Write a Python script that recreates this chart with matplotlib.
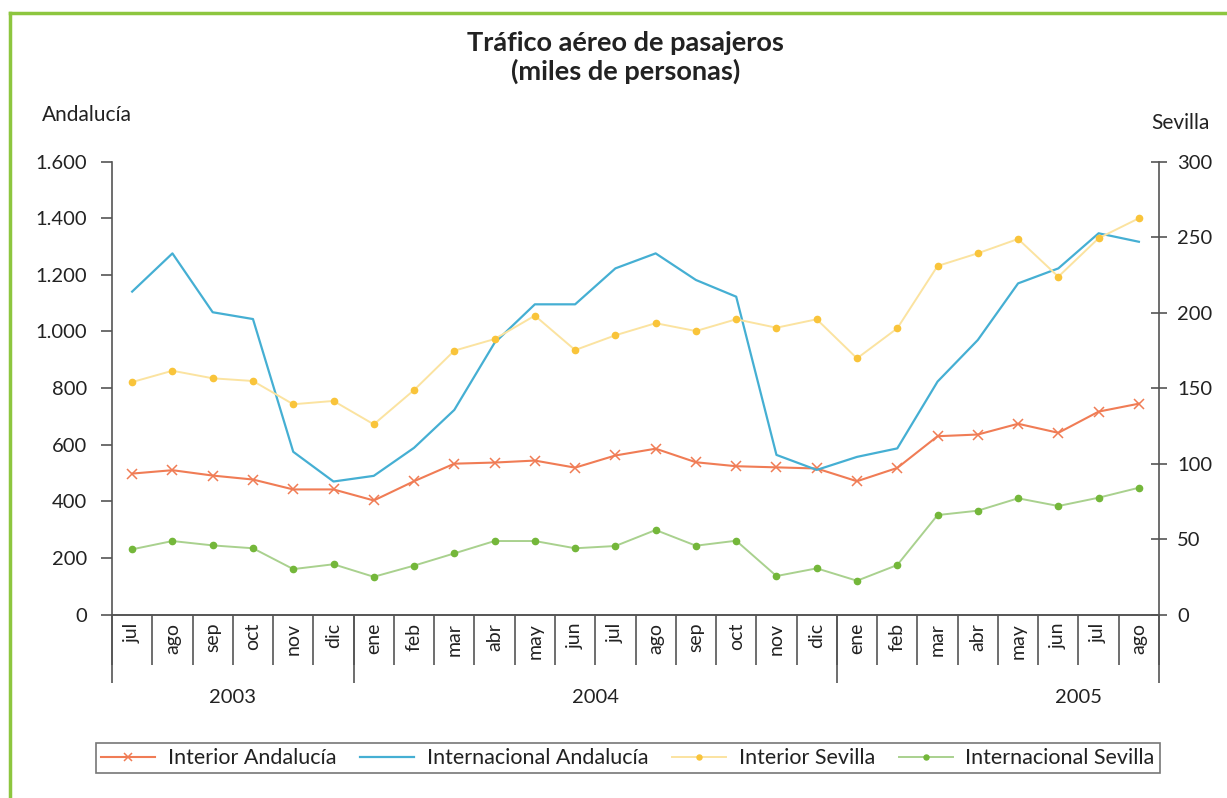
import matplotlib.pyplot as plt
import matplotlib.transforms as mtransforms
from matplotlib.lines import Line2D
from matplotlib.ticker import FuncFormatter
import numpy as np

plt.rcParams['font.family'] = ['Lato', 'DejaVu Sans']

months = ["jul", "ago", "sep", "oct", "nov", "dic",
          "ene", "feb", "mar", "abr", "may", "jun", "jul", "ago", "sep", "oct", "nov", "dic",
          "ene", "feb", "mar", "abr", "may", "jun", "jul", "ago"]
years = ["2003", "2004", "2005"]
year_pos = [2.5, 11.5, 23.5]
year_breaks = [-0.5, 5.5, 17.5, 25.5]

# Andalucía (left axis)
interior_and = [498, 510, 491, 477, 442, 442, 403, 471, 533, 537, 544, 519, 562,
                586, 538, 524, 520, 516, 471, 518, 630, 636, 674, 642, 717, 745]
internac_and = [1141, 1276, 1068, 1044, 575, 470, 490, 589, 723, 960, 1096, 1096, 1223,
                1276, 1182, 1123, 564, 511, 557, 587, 823, 970, 1170, 1223, 1347, 1317]
# Sevilla (right axis)
interior_sev = [154, 161.5, 156.5, 154.7, 139.3, 141.5, 126, 148.7, 174.8, 182.5, 198, 175.2, 185,
                193, 187.8, 195.6, 190, 195.6, 169.7, 189.6, 230.9, 239.3, 248.8, 223.8, 249.3, 262.5]
internac_sev = [43.2, 48.7, 45.8, 43.9, 30.1, 33.3, 25, 32.4, 40.5, 48.7, 48.7, 43.9, 45.4,
                56, 45.6, 48.9, 25.5, 30.6, 22.4, 32.8, 65.9, 68.8, 77, 71.9, 77.4, 84]

x = np.arange(len(months))
txt = '#222222'

fig = plt.figure(figsize=(12.27, 7.98), dpi=100)
ax = fig.add_axes([0.0913, 0.2299, 0.8533, 0.5675])
ax2 = ax.twinx()

l1, = ax.plot(x, interior_and, color='#F07C55', lw=1.5, marker='x', ms=7.5, mew=1.1,
              label='Interior Andalucía')
l2, = ax.plot(x, internac_and, color='#45AFD3', lw=1.6, label='Internacional Andalucía')
l3, = ax2.plot(x, interior_sev, color='#FBE3A0', lw=1.4, marker='o', ms=4.5,
               mfc='#F9C43A', mec='#F9C43A', label='Interior Sevilla')
l4, = ax2.plot(x, internac_sev, color='#A9D18E', lw=1.4, marker='o', ms=4.5,
               mfc='#74B73A', mec='#74B73A', label='Internacional Sevilla')

ax.set_xlim(-0.5, 25.5)
ax.set_ylim(0, 1600)
ax2.set_ylim(0, 300)
ax.set_yticks(np.arange(0, 1601, 200))
ax2.set_yticks(np.arange(0, 301, 50))
ax.yaxis.set_major_formatter(FuncFormatter(lambda v, p: f"{int(v):,}".replace(",", ".")))

for a in (ax, ax2):
    a.spines['top'].set_visible(False)
    for s in ['left', 'right', 'bottom']:
        a.spines[s].set_color('#555555')
        a.spines[s].set_linewidth(1.2)
ax.spines['right'].set_visible(False)
ax2.spines['left'].set_visible(False)

ax.tick_params(axis='y', direction='out', length=8, width=1.2, color='#555555',
               pad=10, labelsize=14.5, labelcolor=txt)
ax2.tick_params(axis='y', direction='inout', length=12, width=1.2, color='#555555',
                pad=7, labelsize=14.5, labelcolor=txt)

ax.set_xticks(x)
ax.set_xticklabels(months, rotation=90, va='top', fontsize=14, color=txt)
ax.tick_params(axis='x', which='major', length=0, pad=6)
ax.set_xticks(np.arange(-0.5, 26, 1), minor=True)
ax.tick_params(axis='x', which='minor', length=36, width=1.2, color='#555555')

trans = mtransforms.blended_transform_factory(ax.transData, ax.transAxes)
ax.vlines(year_breaks, -0.152, 0, transform=trans, color='#555555', lw=1.2, clip_on=False)
for yp, yl in zip(year_pos, years):
    ax.text(yp, -0.183, yl, transform=trans, ha='center', va='center', fontsize=14.5, color=txt)

fig.text(0.51, 0.928, 'Tráfico aéreo de pasajeros\n(miles de personas)', ha='center', va='center',
         fontsize=19.5, fontweight='bold', color=txt, linespacing=1.15)
fig.text(0.034, 0.856, 'Andalucía', ha='left', va='center', fontsize=15, color=txt)
fig.text(0.962, 0.846, 'Sevilla', ha='center', va='center', fontsize=15, color=txt)

leg = fig.legend(handles=[l1, l2, l3, l4], loc='center', bbox_to_anchor=(0.5118, 0.05),
                 ncol=4, frameon=True, fancybox=False, fontsize=15.5, handlelength=2.5,
                 columnspacing=1.1, borderpad=0.25, handletextpad=0.6, markerscale=0.8)
leg.get_frame().set_edgecolor('#555555')
leg.get_frame().set_linewidth(1.2)
for t in leg.get_texts():
    t.set_color(txt)

# green frame of the original panel
fig.add_artist(Line2D([10 / 1227, 10 / 1227], [0, 1 - 13 / 798], color='#8DC63F', lw=2.5))
fig.add_artist(Line2D([10 / 1227, 1], [1 - 13 / 798, 1 - 13 / 798], color='#8DC63F', lw=2.5))

fig.savefig('out.png', dpi=100)
